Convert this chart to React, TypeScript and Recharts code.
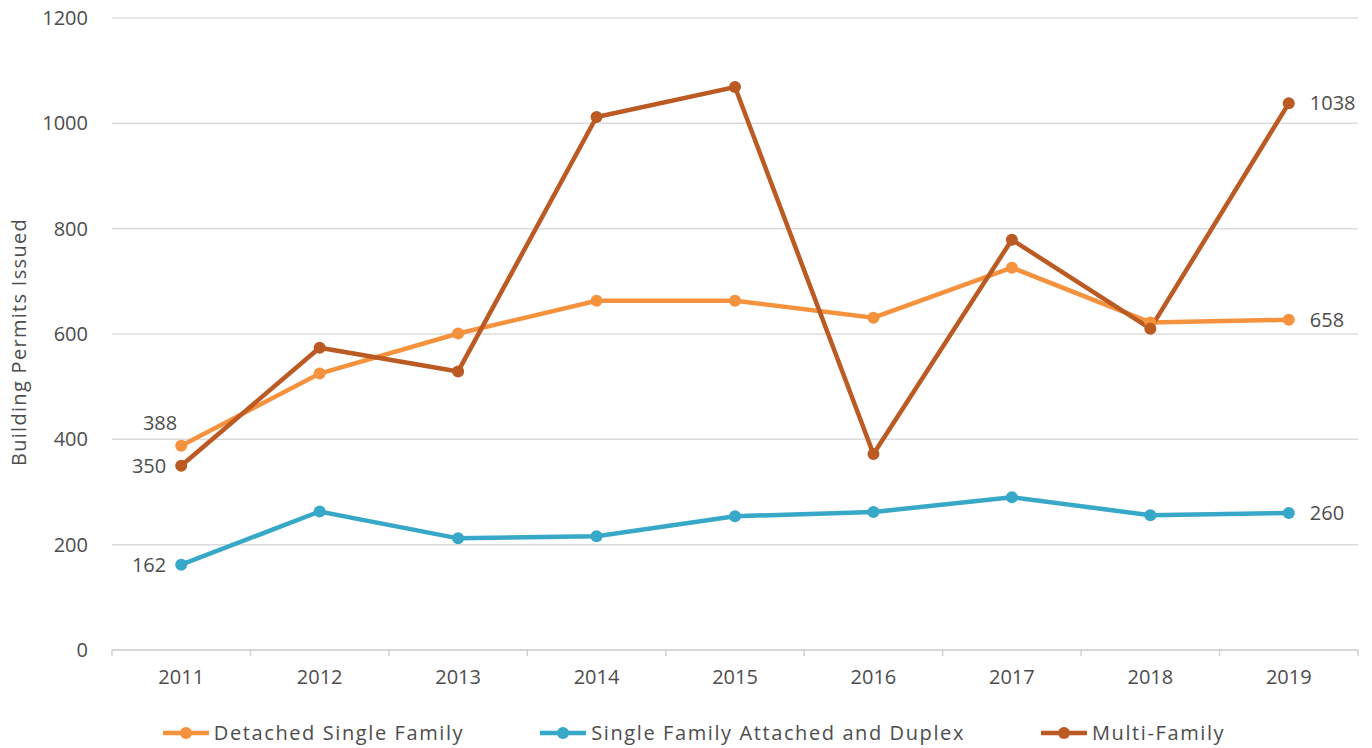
import { CartesianGrid, LabelList, Legend, Line, LineChart, XAxis, YAxis } from "recharts";

const years = ["2011", "2012", "2013", "2014", "2015", "2016", "2017", "2018", "2019"];
const detached = [388, 525, 601, 663, 663, 631, 726, 622, 627];
const attached = [162, 263, 212, 216, 254, 262, 290, 256, 260];
const multi = [350, 574, 529, 1012, 1069, 372, 779, 610, 1038];
// end labels as printed on the original chart
const detachedLabels = ["388", "", "", "", "", "", "", "", "658"];
const attachedLabels = ["162", "", "", "", "", "", "", "", "260"];
const multiLabels = ["350", "", "", "", "", "", "", "", "1038"];
const yTicks = [0, 200, 400, 600, 800, 1000, 1200];

const ORANGE = "#F5923E";
const TEAL = "#37A8C8";
const BROWN = "#BC5A23";
const TEXT = "#4d4d4d";
const FONT = "'Open Sans', sans-serif";
const FS = 20;

const data = years.map((year, i) => ({
  year,
  detached: detached[i],
  attached: attached[i],
  multi: multi[i],
}));

const series = [
  { key: "detached", name: "Detached Single Family", color: ORANGE, labels: detachedLabels, firstPos: "above" },
  { key: "attached", name: "Single Family Attached and Duplex", color: TEAL, labels: attachedLabels, firstPos: "left" },
  { key: "multi", name: "Multi-Family", color: BROWN, labels: multiLabels, firstPos: "left" },
];

const BAND = (1358 - 112) / years.length;

function XTick(props: any) {
  const { x, y, payload, index } = props;
  const last = index === years.length - 1;
  return (
    <g>
      <line x1={x - BAND / 2} x2={x - BAND / 2} y1={y - 8} y2={y - 2} stroke="#d0d0d0" strokeWidth={1.5} />
      {last && <line x1={x + BAND / 2} x2={x + BAND / 2} y1={y - 8} y2={y - 2} stroke="#d0d0d0" strokeWidth={1.5} />}
      <text x={x} y={y + 26} textAnchor="middle" fill={TEXT} fontSize={FS} fontFamily={FONT}>
        {payload.value}
      </text>
    </g>
  );
}

function YLabel(props: any) {
  const { viewBox } = props;
  const cy = viewBox.y + viewBox.height / 2 + 8;
  return (
    <text
      x={26}
      y={cy}
      transform={`rotate(-90, 26, ${cy})`}
      textAnchor="middle"
      fill={TEXT}
      fontSize={FS}
      fontFamily={FONT}
      letterSpacing={1.3}
    >
      Building Permits Issued
    </text>
  );
}

function makeLabel(labels: string[], firstPos: string) {
  return (props: any) => {
    const { x, y, index } = props;
    const text = labels[index];
    if (!text) return null;
    if (index === 0 && firstPos === "above") {
      return (
        <text x={x - 4} y={y - 16} textAnchor="end" fill={TEXT} fontSize={FS} fontFamily={FONT}>
          {text}
        </text>
      );
    }
    if (index === 0) {
      return (
        <text x={x - 15} y={y + 7} textAnchor="end" fill={TEXT} fontSize={FS} fontFamily={FONT}>
          {text}
        </text>
      );
    }
    return (
      <text x={x + 21} y={y + 7} textAnchor="start" fill={TEXT} fontSize={FS} fontFamily={FONT}>
        {text}
      </text>
    );
  };
}

function LegendContent() {
  return (
    <div
      style={{
        display: "flex",
        justifyContent: "center",
        gap: 74,
        fontFamily: FONT,
        fontSize: FS,
        color: TEXT,
        letterSpacing: 1.6,
        paddingLeft: 14,
      }}
    >
      {series.map((s) => (
        <div key={s.key} style={{ display: "flex", alignItems: "center" }}>
          <svg width={50} height={14} style={{ marginRight: 3 }}>
            <line x1={2} x2={48} y1={7} y2={7} stroke={s.color} strokeWidth={4.5} />
            <circle cx={25} cy={7} r={6} fill={s.color} />
          </svg>
          <span>{s.name}</span>
        </div>
      ))}
    </div>
  );
}

export default function App() {
  return (
    <div style={{ position: "absolute", left: 0, top: 0, width: 1372, height: 748, background: "#fff" }}>
      <LineChart width={1372} height={748} data={data} margin={{ top: 18, right: 14, bottom: 41, left: 0 }}>
        <CartesianGrid vertical={false} stroke="#dcdcdc" strokeWidth={1.5} />
        <XAxis
          dataKey="year"
          stroke="#d0d0d0"
          strokeWidth={1.5}
          tickLine={false}
          tick={<XTick />}
          interval={0}
          padding={{ left: BAND / 2, right: BAND / 2 }}
        />
        <YAxis
          width={112}
          domain={[0, 1200]}
          ticks={yTicks}
          axisLine={false}
          tickLine={false}
          tickMargin={18}
          tick={{ fill: TEXT, fontSize: FS, fontFamily: FONT }}
          label={<YLabel />}
        />
        <Legend verticalAlign="bottom" content={<LegendContent />} wrapperStyle={{ bottom: 2, left: 0, width: 1372 }} />
        {series.map((s) => (
          <Line
            key={s.key}
            dataKey={s.key}
            name={s.name}
            type="linear"
            stroke={s.color}
            strokeWidth={4.5}
            dot={{ r: 6, fill: s.color, stroke: s.color, strokeWidth: 0 }}
            activeDot={false}
            isAnimationActive={false}
          >
            <LabelList dataKey={s.key} content={makeLabel(s.labels, s.firstPos)} />
          </Line>
        ))}
      </LineChart>
    </div>
  );
}
